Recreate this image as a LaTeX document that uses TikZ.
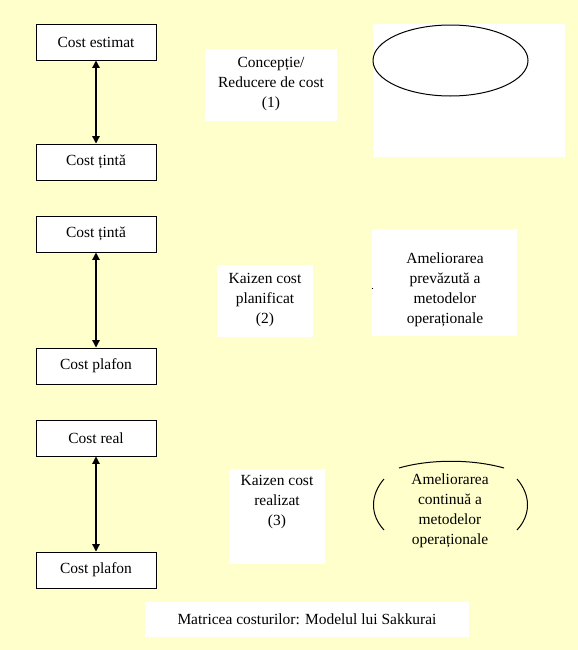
\documentclass[tikz,border=0pt]{standalone}
\usepackage{fontspec}
\setmainfont{Liberation Serif}
\usetikzlibrary{arrows.meta}
\definecolor{bgyellow}{HTML}{FFFFCC}
\begin{document}
\begin{tikzpicture}[x=0.75pt,y=-0.75pt,
  every node/.style={font=\fontsize{11.6}{15}\selectfont},
  costbox/.style={draw=black,line width=0.75pt,fill=white,minimum width=90pt,minimum height=27pt,inner sep=0pt},
  wbox/.style={fill=white,inner sep=0pt},
  txt/.style={align=center,inner sep=0pt},
  link/.style={line width=0.9pt,{Triangle[length=5.5pt,width=5.5pt]}-{Triangle[length=5.5pt,width=5.5pt]}},
  outline/.style={draw=black,line width=0.75pt}]
\fill[bgyellow] (0,0) rectangle (578,650);
\useasboundingbox (0,0) rectangle (578,650);

% left column
\node[costbox] (ce) at (96,42) {Cost estimat};
\node[costbox] (ct1) at (96,162) {Cost țintă};
\node[costbox] (ct2) at (96,234) {Cost țintă};
\node[costbox] (cp1) at (96,366) {Cost plafon};
\node[costbox] (cr) at (96,438) {Cost real};
\node[costbox] (cp2) at (96,570) {Cost plafon};
\draw[link] (ce.south) -- (ct1.north);
\draw[link] (ct2.south) -- (cp1.north);
\draw[link] (cr.south) -- (cp2.north);

% middle column
\node[wbox,minimum width=99pt,minimum height=54pt] (conc) at (271,85) {};
\node[txt] (conct) at (271,84) {Concepție/\\Reducere de cost\\(1)};
\node[wbox,minimum width=72pt,minimum height=54pt] (kp) at (265,301) {};
\node[txt] (kpt) at (265,300) {Kaizen cost\\planificat\\(2)};
\node[wbox,minimum width=72pt,minimum height=71.25pt] (kr) at (277,516.5) {};
\node[txt] (krt) at (277,502) {Kaizen cost\\realizat\\(3)};

% right column
\node[wbox,minimum width=144pt,minimum height=99.75pt] (ellbox) at (469,90.5) {};
\draw[outline] (450.5,60.5) ellipse [x radius=77.5, y radius=35.5];
\node[wbox,minimum width=108.75pt,minimum height=80.25pt] (amp) at (444.5,282.5) {};
\node[txt] (ampt) at (445,290) {Ameliorarea\\prevăzută a\\metodelor\\operaționale};
\fill[black] (372.5,288.5) circle [radius=0.6];

\node[txt] (amct) at (450,511) {Ameliorarea\\continuă a\\metodelor\\operaționale};
\draw[outline] (399,468) .. controls (430,459) and (472,459) .. (504,468);
\draw[outline] (384,479) .. controls (370,495) and (370,515) .. (384,530);
\draw[outline] (517,479) .. controls (531,495) and (531,515) .. (517,530);

% caption
\node[wbox,minimum width=243pt,minimum height=26.25pt] (mat) at (307,619.5) {Matricea costurilor: Modelul lui Sakkurai};
\end{tikzpicture}
\end{document}
